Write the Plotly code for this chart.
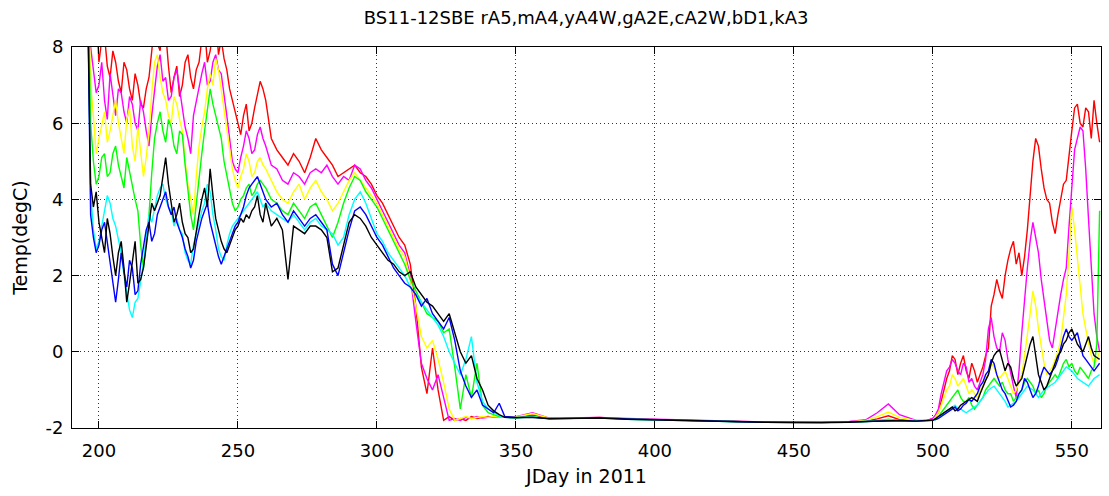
import plotly.graph_objects as go

# ---- day grid (JDay in 2011) ----
fall1_days = list(range(196, 261))            # daily 196 .. 260
fall2_days = list(range(262, 348, 2))         # every 2 days 262 .. 346
winter_days = [350, 356, 362, 370, 380, 390, 400, 410, 420, 430, 440, 450,
               460, 470, 476, 480, 484, 488, 494, 498]
spring_days = list(range(500, 561))           # daily 500 .. 560
days = fall1_days + fall2_days + winter_days + spring_days

# ---- series values (degC) ----
# rA5 (red)
r_fall1 = [11, 9.5, 8.5, 8.9, 7.6, 8.2, 8.3, 7.5, 7.2, 7.9,
           7.6, 7.1, 6.8, 7.6, 7.4, 6.9, 6.6, 7.3, 7.0, 6.5,
           6.4, 6.9, 7.2, 7.9, 8.6, 8.1, 7.9, 8.7, 8.4, 7.5,
           6.8, 7.2, 7.5, 6.7, 7.0, 7.6, 7.8, 7.2, 6.9, 7.4,
           7.6, 8.2, 8.5, 7.6, 7.9, 8.4, 8.8, 7.8, 8.2, 7.7,
           7.4, 6.9, 6.6, 6.3, 6.0, 5.7, 6.2, 6.5, 5.8, 6.0,
           6.4, 6.8, 7.1, 6.9, 6.6]
r_fall2 = [5.6, 5.3, 5.1, 4.9, 5.2, 5.0, 4.7, 5.1, 5.6, 5.3, 5.1, 4.9, 4.6, 4.7, 4.8, 4.9, 4.7, 4.6,
           4.4, 4.1, 3.9, 3.6, 3.3, 3.0, 2.8, 2.3, 1.2, -0.4, -1.1, 0.1, -1.0, -1.8, -1.7, -1.8, -1.75,
           -1.8, -1.7, -1.75, -1.72, -1.7, -1.72, -1.7, -1.72]
r_winter = [-1.72, -1.66, -1.75, -1.74, -1.72, -1.76, -1.78, -1.8, -1.82, -1.83, -1.84, -1.85,
            -1.86, -1.84, -1.82, -1.76, -1.68, -1.78, -1.82, -1.8]
r_spring = [-1.75, -1.7, -1.6, -1.3, -1.0, -0.7, -0.5, -0.1, -0.2, -0.6,
            -0.3, -0.1, -0.5, -0.7, -0.3, -0.5, -0.8, -0.6, -0.4, -0.1,
            0.1, 1.2, 1.5, 1.9, 1.6, 1.4, 2.0, 2.4, 2.7, 2.9,
            2.3, 2.6, 2.0, 2.5, 3.2, 4.1, 5.0, 5.6, 5.4, 4.8,
            4.3, 4.0, 3.9, 3.4, 3.1, 3.6, 4.0, 4.4, 4.5, 5.2,
            5.8, 6.4, 6.5, 6.0, 5.9, 6.4, 6.3, 5.6, 6.6, 6.0,
            5.5]

# mA4 (magenta)
m_fall1 = [11, 8.0, 7.4, 6.8, 7.0, 7.6, 6.6, 6.1, 7.3, 6.8,
           6.2, 6.9, 6.8, 6.3, 6.0, 6.7, 6.5, 6.0, 5.8, 6.6,
           6.3, 5.8, 5.4, 6.2, 6.9, 7.5, 7.8, 7.1, 7.2, 6.6,
           6.7, 7.2, 7.4, 6.9, 6.5, 5.9, 5.6, 5.2, 6.2, 6.6,
           6.9, 7.3, 7.6, 7.0, 7.1, 7.6, 7.8, 7.4, 7.3, 6.8,
           6.2, 5.6, 5.0, 4.8, 4.7, 5.1, 5.4, 5.8, 5.6, 5.2,
           5.3, 5.7, 5.9, 5.6, 5.4]
m_fall2 = [4.9, 4.8, 4.5, 4.4, 4.7, 4.6, 4.4, 4.7, 4.8, 4.7, 4.9, 4.6, 4.4, 4.6, 4.5, 4.9, 4.8, 4.5,
           4.3, 4.0, 3.7, 3.4, 3.1, 2.8, 2.6, 2.0, 0.8, -0.3, -0.7, -1.0, -0.6, -1.2, -1.8, -1.75, -1.8,
           -1.72, -1.75, -1.7, -1.74, -1.72, -1.7, -1.72, -1.72]
m_winter = [-1.7, -1.6, -1.74, -1.73, -1.72, -1.75, -1.77, -1.79, -1.81, -1.82, -1.84, -1.84,
            -1.85, -1.83, -1.78, -1.6, -1.37, -1.65, -1.8, -1.8]
m_spring = [-1.75, -1.65, -1.5, -1.1, -0.8, -0.5, -0.4, -0.2, -0.3, -0.5,
            -0.6, -0.3, -0.4, -0.8, -0.7, -0.9, -1.0, -0.8, -0.6, -0.2,
            0.6, 0.9, 0.4, 0.1, 0.0, 0.5, 0.3, -0.2, -0.6, -0.9,
            -1.2, -0.5, 0.5, 1.4, 2.2, 2.9, 3.4, 3.0, 2.6, 1.9,
            1.4, 0.8, 0.3, 0.1, 0.6, 1.1, 1.5, 1.9, 2.2, 3.3,
            4.4, 5.3, 5.6, 5.9, 5.8, 4.8, 3.5, 2.2, 1.0, 0.4,
            0.0]

# yA4W (yellow)
y_fall1 = [10, 7.0, 6.2, 5.2, 5.6, 6.0, 6.3, 5.5, 5.8, 6.2,
           6.6, 6.0, 5.6, 5.2, 6.1, 6.4, 5.4, 5.0, 5.9, 5.3,
           4.6, 5.1, 5.8, 6.8, 7.6, 7.8, 7.2, 6.8, 6.6, 6.2,
           6.0, 6.7, 6.5, 6.1, 5.8, 5.0, 4.4, 4.0, 3.6, 4.6,
           5.4, 5.9, 6.3, 6.9, 7.3, 7.0, 7.7, 7.4, 6.9, 6.4,
           5.8, 5.3, 4.8, 4.5, 4.3, 4.6, 4.8, 5.2, 5.0, 4.6,
           4.7, 5.0, 5.1, 4.9, 4.8]
y_fall2 = [4.5, 4.2, 4.0, 3.9, 4.2, 4.4, 4.0, 4.3, 4.5, 4.2, 4.0, 3.7, 3.9, 4.2, 4.5, 4.7, 4.5, 4.3,
           4.1, 3.9, 3.6, 3.3, 3.0, 2.7, 2.5, 1.9, 1.2, 0.4, 0.1, 0.3, -0.2, -0.8, -1.5, -1.8, -1.75,
           -1.7, -1.75, -1.72, -1.7, -1.72, -1.7, -1.71, -1.72]
y_winter = [-1.71, -1.62, -1.74, -1.74, -1.73, -1.76, -1.78, -1.8, -1.82, -1.83, -1.85, -1.85,
            -1.86, -1.84, -1.8, -1.7, -1.58, -1.72, -1.81, -1.8]
y_spring = [-1.8, -1.7, -1.6, -1.4, -1.2, -1.0, -0.9, -0.6, -0.7, -0.9,
            -0.8, -0.7, -0.9, -1.1, -1.0, -1.1, -1.2, -1.0, -0.9, -0.7,
            -0.6, -0.3, -0.4, -0.6, -0.7, -0.6, -0.5, -0.7, -0.9, -1.1,
            -1.0, -0.8, -0.6, -0.1, 0.4, 1.0, 1.6, 1.2, 0.6, 0.1,
            -0.3, -0.6, -0.5, -0.4, -0.2, 0.0, 0.3, 0.9, 1.5, 2.6,
            3.8, 3.2, 2.4, 1.6, 1.0, 0.6, 0.2, -0.1, -0.3, -0.2,
            0.0]

# gA2E (green)
g_fall1 = [10, 6.0, 5.0, 4.4, 4.6, 5.1, 5.2, 4.6, 4.7, 5.2,
           5.4, 4.9, 4.6, 4.3, 5.1, 4.7, 4.4, 4.0, 3.7, 2.8,
           2.2, 2.9, 3.6, 4.7, 5.6, 6.0, 6.3, 5.8, 5.5, 6.1,
           5.9, 5.4, 5.2, 5.8, 5.7, 4.9, 4.2, 3.6, 3.2, 3.9,
           4.6, 5.2, 5.8, 6.4, 6.9, 6.5, 6.2, 5.9, 5.6, 5.0,
           4.6, 4.2, 3.9, 3.7, 3.8, 4.0, 4.1, 4.3, 4.4, 4.1,
           4.2, 4.4, 4.5, 4.4, 4.3]
g_fall2 = [4.0, 3.9, 3.7, 3.6, 3.9, 3.7, 3.5, 3.8, 3.9, 3.6, 3.3, 3.0, 3.4, 3.9, 4.3, 4.6, 4.5, 4.2,
           4.0, 3.8, 3.5, 3.2, 2.9, 2.6, 2.3, 1.9, 1.6, 1.3, 1.0, 0.9, 0.8, 0.5, 0.6, -0.4, -1.5,
           -0.6, -1.2, -0.3, -1.4, -1.6, -1.65, -1.7, -1.72]
g_winter = [-1.73, -1.7, -1.76, -1.75, -1.73, -1.77, -1.79, -1.8, -1.82, -1.84, -1.85, -1.86,
            -1.86, -1.85, -1.83, -1.81, -1.77, -1.8, -1.82, -1.81]
g_spring = [-1.8, -1.75, -1.7, -1.6, -1.5, -1.4, -1.3, -1.2, -1.1, -1.0,
            -1.2, -1.3, -1.3, -1.2, -1.4, -1.5, -1.4, -1.3, -1.2, -1.0,
            -0.9, -0.8, -0.7, -0.8, -0.9, -0.8, -1.0, -1.1, -1.1, -1.3,
            -1.2, -1.1, -1.0, -0.8, -0.7, -0.8, -0.9, -1.1, -1.0, -1.2,
            -1.1, -0.9, -0.8, -0.7, -0.6, -0.7, -0.5, -0.3, -0.2, -0.4,
            -0.3, -0.5, -0.6, -0.4, -0.5, -0.6, -0.7, -0.5, -0.4, 0.2,
            3.7]

# cA2W (cyan)
c_fall1 = [9, 4.2, 3.2, 2.7, 2.9, 3.3, 3.6, 4.1, 3.9, 3.5,
           3.3, 2.9, 2.6, 2.0, 1.6, 1.1, 0.9, 1.3, 1.4, 1.9,
           2.3, 3.0, 3.6, 3.4, 3.8, 4.1, 4.3, 4.4, 4.0, 3.8,
           3.7, 3.3, 3.5, 3.2, 3.1, 2.6, 2.4, 2.3, 2.8, 3.1,
           3.4, 3.7, 3.9, 4.4, 4.2, 3.6, 3.2, 2.7, 2.5, 2.4,
           2.8, 3.1, 3.3, 3.4, 3.5, 3.6, 3.7, 3.8, 3.9, 4.0,
           4.1, 4.2, 4.0, 3.8, 3.9]
c_fall2 = [3.7, 3.6, 3.5, 3.4, 3.6, 3.4, 3.2, 3.4, 3.5, 3.3, 3.2, 3.1, 2.8, 3.0, 3.6, 4.0, 4.2, 3.9,
           3.5, 3.1, 2.9, 2.6, 2.4, 2.2, 2.0, 1.7, 1.5, 1.3, 1.1, 0.9, 0.7, 0.4, 0.0, -0.3, -0.6,
           -0.2, 0.4, -0.8, -1.3, -1.5, -1.6, -1.68, -1.72]
c_winter = [-1.73, -1.71, -1.75, -1.75, -1.74, -1.77, -1.79, -1.81, -1.82, -1.84, -1.85, -1.86,
            -1.87, -1.85, -1.83, -1.81, -1.78, -1.8, -1.82, -1.81]
c_spring = [-1.8, -1.78, -1.75, -1.7, -1.6, -1.55, -1.5, -1.45, -1.4, -1.5,
            -1.5, -1.55, -1.6, -1.55, -1.5, -1.45, -1.4, -1.3, -1.2, -1.1,
            -1.0, -0.95, -0.9, -1.0, -1.1, -1.2, -1.3, -1.45, -1.4, -1.35,
            -1.3, -1.2, -1.1, -1.0, -0.9, -0.95, -1.0, -1.1, -1.2, -1.1,
            -1.0, -0.95, -0.9, -0.85, -0.8, -0.7, -0.6, -0.5, -0.4, -0.45,
            -0.5, -0.6, -0.7, -0.75, -0.8, -0.85, -0.9, -0.8, -0.7, -0.65,
            -0.6]

# bD1 (blue)
b_fall1 = [9, 3.6, 3.0, 2.6, 2.8, 3.2, 3.4, 2.9, 2.3, 1.8,
           1.3, 1.9, 2.6, 2.1, 1.7, 2.4, 2.2, 1.5, 1.6, 2.3,
           2.8, 3.2, 3.4, 2.9, 3.1, 3.6, 3.8, 4.0, 4.2, 3.8,
           3.6, 3.8, 3.4, 3.2, 3.0, 2.7, 2.5, 2.2, 2.4, 2.9,
           3.2, 3.5, 3.7, 3.9, 3.4, 3.1, 2.8, 2.5, 2.3, 2.5,
           2.7, 2.9, 3.1, 3.3, 3.4, 3.6, 3.8, 4.1, 4.3, 4.4,
           4.5, 4.6, 4.4, 4.2, 4.0]
b_fall2 = [3.8, 3.9, 3.6, 3.4, 3.7, 3.5, 3.3, 3.5, 3.6, 3.4, 3.2, 2.3, 2.0, 2.6, 3.2, 3.7, 3.8, 3.6,
           3.3, 3.0, 2.8, 2.5, 2.2, 2.0, 1.8, 1.7, 1.5, 1.2, 1.4, 1.0, 0.8, 0.6, 0.9, 0.3, -0.5,
           -0.9, -1.2, -1.0, -1.4, -1.5, -1.6, -1.35, -1.7]
b_winter = [-1.72, -1.72, -1.76, -1.74, -1.73, -1.76, -1.78, -1.8, -1.83, -1.84, -1.85, -1.85,
            -1.86, -1.84, -1.83, -1.82, -1.8, -1.81, -1.82, -1.8]
b_spring = [-1.8, -1.78, -1.75, -1.7, -1.65, -1.6, -1.55, -1.5, -1.45, -1.55,
            -1.5, -1.4, -1.35, -1.25, -1.3, -1.2, -1.1, -0.9, -0.8, -0.6,
            -0.5, -0.2, -0.3, -0.6, -0.8, -1.0, -1.1, -1.3, -1.45, -1.4,
            -1.3, -1.1, -1.0, -0.7, -0.8, -1.0, -1.2, -1.1, -0.9, -0.6,
            -0.4, -0.5, -0.6, -0.5, -0.4, -0.2, 0.1, 0.4, 0.6, 0.4,
            0.3, 0.4, 0.5, 0.2, -0.1, -0.2, -0.3, -0.4, -0.5, -0.4,
            -0.3]

# kA3 (black)
k_fall1 = [9, 4.4, 3.8, 4.2, 3.4, 3.0, 2.6, 3.5, 3.1, 2.5,
           2.0, 2.6, 2.9, 2.2, 1.3, 1.8, 2.4, 2.9, 1.8, 1.9,
           2.2, 2.8, 3.3, 3.9, 3.7, 3.9, 4.1, 4.6, 5.1, 4.4,
           3.9, 3.4, 3.6, 3.9, 3.4, 3.1, 3.0, 2.6, 2.7, 3.2,
           3.6, 4.0, 4.3, 3.8, 4.8, 4.1, 3.5, 3.2, 2.9, 2.7,
           2.6, 2.8, 3.0, 3.2, 3.3, 3.5, 3.4, 3.6, 3.5, 3.7,
           3.8, 4.1, 3.6, 3.4, 3.9]
k_fall2 = [3.3, 3.5, 3.2, 1.9, 3.3, 3.2, 3.1, 3.3, 3.3, 3.2, 3.0, 2.1, 2.2, 2.8, 3.4, 3.6, 3.5, 3.3,
           3.0, 2.8, 2.6, 2.4, 2.3, 2.1, 2.0, 2.1, 1.7, 1.5, 1.3, 1.2, 1.0, 0.8, 1.0, 0.5, 0.0,
           -0.3, -0.1, -0.7, -1.0, -1.4, -1.55, -1.65, -1.72]
k_winter = [-1.73, -1.72, -1.75, -1.75, -1.74, -1.77, -1.79, -1.81, -1.82, -1.84, -1.85, -1.86,
            -1.86, -1.85, -1.83, -1.82, -1.81, -1.8, -1.82, -1.8]
k_spring = [-1.8, -1.75, -1.7, -1.65, -1.6, -1.55, -1.5, -1.45, -1.55, -1.5,
            -1.4, -1.35, -1.3, -1.25, -1.2, -1.25, -1.3, -1.1, -0.9, -0.75,
            -0.6, -0.3, -0.1, 0.0, 0.05, -0.2, -0.5, -0.3, -0.4, -0.7,
            -0.9, -0.8, -0.7, -0.4, -0.1, 0.2, 0.4, -0.1, -0.6, -0.8,
            -1.0, -0.9, -0.7, -0.5, -0.3, -0.1, 0.0, 0.2, 0.3, 0.5,
            0.6, 0.4, 0.2, 0.1, 0.0, 0.2, 0.4, 0.1, -0.1, -0.15,
            -0.2]

series = [
    ("rA5", r_fall1 + r_fall2 + r_winter + r_spring, "#ff0000"),
    ("mA4", m_fall1 + m_fall2 + m_winter + m_spring, "#ff00ff"),
    ("yA4W", y_fall1 + y_fall2 + y_winter + y_spring, "#ffff00"),
    ("gA2E", g_fall1 + g_fall2 + g_winter + g_spring, "#00ff00"),
    ("cA2W", c_fall1 + c_fall2 + c_winter + c_spring, "#00ffff"),
    ("bD1", b_fall1 + b_fall2 + b_winter + b_spring, "#0000ff"),
    ("kA3", k_fall1 + k_fall2 + k_winter + k_spring, "#000000"),
]
for name, vals, _ in series:
    if len(vals) != len(days):
        raise ValueError(f"{name}: {len(vals)} values vs {len(days)} days")

x_ticks = [200, 250, 300, 350, 400, 450, 500, 550]
y_ticks = [-2, 0, 2, 4, 6, 8]

fig = go.Figure()
for name, vals, col in series:
    fig.add_trace(go.Scatter(x=days, y=vals, mode="lines", name=name,
                             line=dict(color=col, width=1.4), showlegend=False))

FONT = "DejaVu Sans, Liberation Sans, sans-serif"
axis_common = dict(showline=True, linecolor="black", linewidth=1, mirror="ticks",
                   ticks="inside", ticklen=7, tickcolor="black",
                   showgrid=True, gridcolor="#333333", griddash="1px,3px", gridwidth=1,
                   zeroline=False, tickfont=dict(family=FONT, size=18, color="black"))

fig.update_layout(
    width=1109, height=496,
    margin=dict(l=72, r=8, t=47, b=68),
    paper_bgcolor="white", plot_bgcolor="white",
    title=dict(text="BS11-12SBE rA5,mA4,yA4W,gA2E,cA2W,bD1,kA3",
               font=dict(family=FONT, size=18, color="black"),
               x=0.5285, xanchor="center", y=0.965, yanchor="middle"),
    xaxis=dict(range=[190.3, 560.5], tickvals=x_ticks, ticktext=[str(t) for t in x_ticks],
               ticklabelstandoff=6,
               title=dict(text="JDay in 2011", font=dict(family=FONT, size=19, color="black"),
                          standoff=10),
               **axis_common),
    yaxis=dict(range=[-2, 8], tickvals=y_ticks, ticktext=[str(t) for t in y_ticks],
               ticklabelstandoff=4,
               title=dict(text="Temp(degC)", font=dict(family=FONT, size=19, color="black"),
                          standoff=12),
               **axis_common),
)

fig.write_html("out.html")
